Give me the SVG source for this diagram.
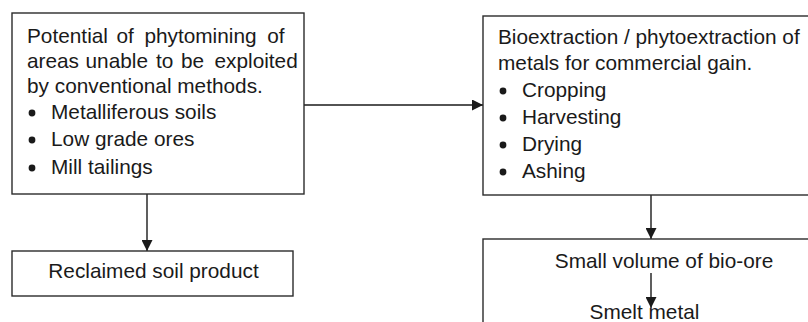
<svg xmlns="http://www.w3.org/2000/svg" width="808" height="322" viewBox="0 0 808 322">
<style>
  .box{fill:#fff;stroke:#2b2b2b;stroke-width:1.4}
  .t{font-family:"Liberation Sans",Arial,sans-serif;font-size:20.8px;fill:#1a1a1a}
  .c{text-anchor:middle}
  .bul{fill:#1a1a1a}
  .ln{stroke:#1a1a1a;stroke-width:1.4;fill:none}
</style>
<defs>
  <marker id="ah" markerWidth="11" markerHeight="11" refX="11" refY="5.5" orient="auto" markerUnits="userSpaceOnUse">
    <path d="M0,0 L11,5.5 L0,11 Z" fill="#1a1a1a"/>
  </marker>
</defs>
<rect width="808" height="322" fill="#fff"/>
<g id="connectors">
  <line class="ln" x1="304" y1="105" x2="483" y2="105" marker-end="url(#ah)"/>
  <line class="ln" x1="147" y1="194" x2="147" y2="251" marker-end="url(#ah)"/>
  <line class="ln" x1="651" y1="195" x2="651" y2="239" marker-end="url(#ah)"/>
</g>
<g id="node-potential">
  <rect class="box" x="12" y="13" width="292" height="181"/>
  <text class="t" y="43"><tspan x="27">Potential</tspan><tspan x="116.5">of</tspan><tspan x="144.4">phytomining</tspan><tspan x="267.3">of</tspan></text>
  <text class="t" y="68"><tspan x="27">areas</tspan><tspan x="85.5">unable</tspan><tspan x="156">to</tspan><tspan x="181">be</tspan><tspan x="214.5">exploited</tspan></text>
  <text class="t" x="27" y="93">by conventional methods.</text>
  <circle class="bul" cx="32" cy="113" r="3.4"/>
  <text class="t" x="51" y="119">Metalliferous soils</text>
  <circle class="bul" cx="32" cy="140" r="3.4"/>
  <text class="t" x="51" y="146">Low grade ores</text>
  <circle class="bul" cx="32" cy="168" r="3.4"/>
  <text class="t" x="51" y="174">Mill tailings</text>
</g>
<g id="node-reclaimed">
  <rect class="box" x="12" y="251" width="281" height="45"/>
  <text class="t c" x="153.5" y="278">Reclaimed soil product</text>
</g>
<g id="node-bioextraction">
  <rect class="box" x="483" y="16" width="340" height="179"/>
  <text class="t" x="498" y="44">Bioextraction / phytoextraction of</text>
  <text class="t" x="498" y="70">metals for commercial gain.</text>
  <circle class="bul" cx="503" cy="91" r="3.4"/>
  <text class="t" x="522" y="97">Cropping</text>
  <circle class="bul" cx="503" cy="118" r="3.4"/>
  <text class="t" x="522" y="124">Harvesting</text>
  <circle class="bul" cx="503" cy="145" r="3.4"/>
  <text class="t" x="522" y="151">Drying</text>
  <circle class="bul" cx="503" cy="172" r="3.4"/>
  <text class="t" x="522" y="178">Ashing</text>
</g>
<g id="node-bioore">
  <rect class="box" x="483" y="239" width="340" height="100"/>
  <text class="t c" x="664" y="268">Small volume of bio-ore</text>
  <line class="ln" x1="651" y1="273" x2="651" y2="308" marker-end="url(#ah)"/>
  <text class="t c" x="644.5" y="319">Smelt metal</text>
</g>
</svg>
